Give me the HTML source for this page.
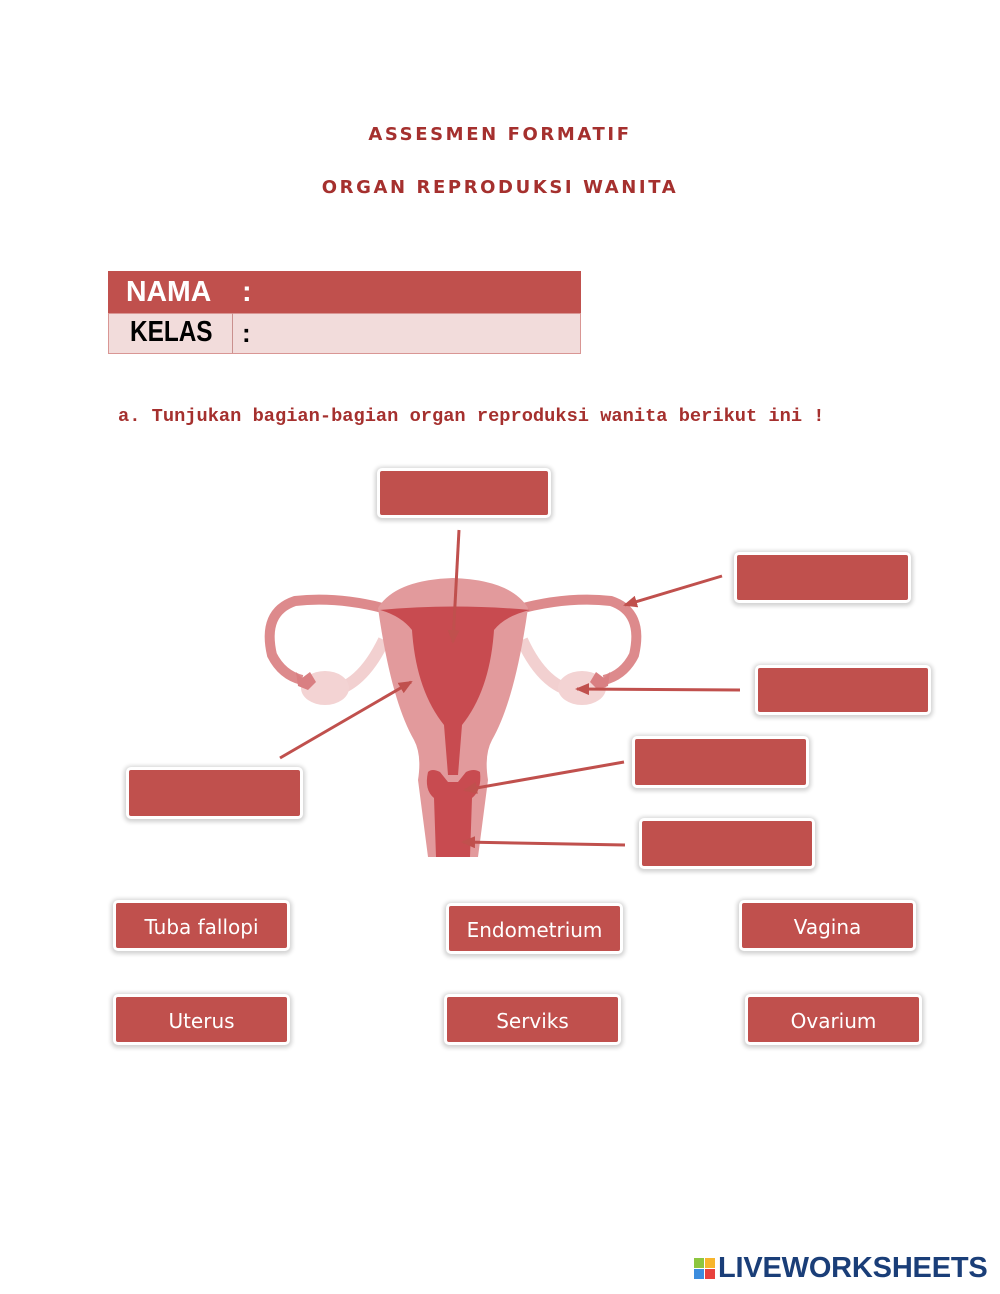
<!DOCTYPE html>
<html><head><meta charset="utf-8"><style>
body{margin:0;background:#fff;width:1000px;height:1294px;position:relative;overflow:hidden;font-family:"Liberation Sans",sans-serif}
.t{position:absolute;left:0;width:1000px;text-align:center;color:#a5302e;font-family:"DejaVu Sans",sans-serif;font-weight:bold;font-size:18px;letter-spacing:2.6px}
.b{position:absolute;background:#c0504d;border:3px solid #fff;box-shadow:0 1px 4px 2px rgba(0,0,0,.18);border-radius:5px;box-sizing:border-box;color:#fff;font-family:"DejaVu Sans",sans-serif;font-size:20px;text-align:center;line-height:48px}
</style></head><body>
<div class="t" style="top:124px">ASSESMEN FORMATIF</div>
<div class="t" style="top:177px">ORGAN REPRODUKSI WANITA</div>
<div style="position:absolute;left:108px;top:271px;width:473px;height:42px;background:#c0504d"></div>
<div style="position:absolute;left:108px;top:313px;width:471px;height:39px;background:#f2dcdb;border:1px solid #d99694"></div>
<div style="position:absolute;left:232px;top:313px;width:1px;height:40px;background:#c9908e"></div>
<div style="position:absolute;left:126px;top:276px;color:#fff;font-weight:bold;font-size:29px;transform:scaleX(0.98);transform-origin:left">NAMA</div>
<div style="position:absolute;left:242px;top:276px;color:#fff;font-weight:bold;font-size:29px">:</div>
<div style="position:absolute;left:130px;top:316px;color:#000;font-weight:bold;font-size:29px;transform:scaleX(0.84);transform-origin:left">KELAS</div>
<div style="position:absolute;left:242px;top:318px;color:#000;font-weight:bold;font-size:26px">:</div>
<div style="position:absolute;left:118px;top:405px;color:#a5302e;font-family:'Liberation Mono',monospace;font-weight:bold;font-size:18.7px">a. Tunjukan bagian-bagian organ reproduksi wanita berikut ini !</div>

<svg width="1000" height="1294" style="position:absolute;left:0;top:0">
<defs><marker id="a" markerWidth="14" markerHeight="12" refX="12" refY="6" orient="auto" markerUnits="userSpaceOnUse"><path d="M0,0 L14,6 L0,12 z" fill="#c0504d"/></marker></defs>
<path d="M384,640 Q360,690 325,692" stroke="#f2d0d0" stroke-width="12" fill="none"/>
<path d="M522,640 Q545,690 580,692" stroke="#f2d0d0" stroke-width="12" fill="none"/>
<ellipse cx="325" cy="688" rx="24" ry="17" fill="#f3d3d3"/>
<ellipse cx="582" cy="688" rx="24" ry="17" fill="#f3d3d3"/>
<path d="M390,610 Q340,596 295,601 Q262,612 272,655 Q282,675 302,680" stroke="#dd8a8c" stroke-width="10" fill="none"/>
<path d="M516,610 Q566,596 611,601 Q644,612 634,655 Q624,675 604,680" stroke="#dd8a8c" stroke-width="10" fill="none"/>
<path d="M296,672 l6,6 l8,-6 l6,10 l-8,8 l-10,-4z" fill="#d97f82"/>
<path d="M610,672 l-6,6 l-8,-6 l-6,10 l8,8 l10,-4z" fill="#d97f82"/>
<path d="M378,608 Q395,580 453,578 Q511,580 528,608 Q515,700 492,740 Q484,755 488,780 L478,857 L428,857 L418,780 Q422,755 414,740 Q391,700 378,608z" fill="#e29a9c"/>
<path d="M380,610 Q453,603 530,610 Q505,616 494,630 Q490,690 462,725 L458,775 L448,775 L444,725 Q416,690 412,630 Q401,616 380,610z" fill="#c84b50"/>
<path d="M428,772 Q432,768 440,772 L448,782 L458,782 L466,772 Q474,768 480,772 Q482,790 472,798 L470,857 L436,857 L434,798 Q424,790 428,772z" fill="#c84b50"/>
<g stroke="#c0504d" stroke-width="3" fill="none" marker-end="url(#a)">
<line x1="459" y1="530" x2="453" y2="642"/>
<line x1="722" y1="576" x2="625" y2="605"/>
<line x1="740" y1="690" x2="577" y2="689"/>
<line x1="280" y1="758" x2="411" y2="682"/>
<line x1="624" y1="762" x2="465" y2="790"/>
<line x1="625" y1="845" x2="463" y2="842"/>
</g>
</svg>

<div class="b" style="left:377px;top:468px;width:174px;height:50px"></div>
<div class="b" style="left:734px;top:552px;width:177px;height:51px"></div>
<div class="b" style="left:755px;top:665px;width:176px;height:50px"></div>
<div class="b" style="left:632px;top:736px;width:177px;height:52px"></div>
<div class="b" style="left:639px;top:818px;width:176px;height:51px"></div>
<div class="b" style="left:126px;top:767px;width:177px;height:52px"></div>
<div class="b" style="left:113px;top:900px;width:177px;height:51px">Tuba fallopi</div>
<div class="b" style="left:446px;top:903px;width:177px;height:51px">Endometrium</div>
<div class="b" style="left:739px;top:900px;width:177px;height:51px">Vagina</div>
<div class="b" style="left:113px;top:994px;width:177px;height:51px">Uterus</div>
<div class="b" style="left:444px;top:994px;width:177px;height:51px">Serviks</div>
<div class="b" style="left:745px;top:994px;width:177px;height:51px">Ovarium</div>

<div style="position:absolute;left:694px;top:1258px;width:22px;height:22px">
<div style="position:absolute;left:0;top:0;width:10px;height:10px;background:#8dc63f"></div>
<div style="position:absolute;left:11px;top:0;width:10px;height:10px;background:#f7b52c"></div>
<div style="position:absolute;left:0;top:11px;width:10px;height:10px;background:#3c8dde"></div>
<div style="position:absolute;left:11px;top:11px;width:10px;height:10px;background:#e8413c"></div>
</div>
<div style="position:absolute;left:718px;top:1252px;color:#1a3e78;font-weight:bold;font-size:29px;letter-spacing:-0.2px">LIVEWORKSHEETS</div>
</body></html>
